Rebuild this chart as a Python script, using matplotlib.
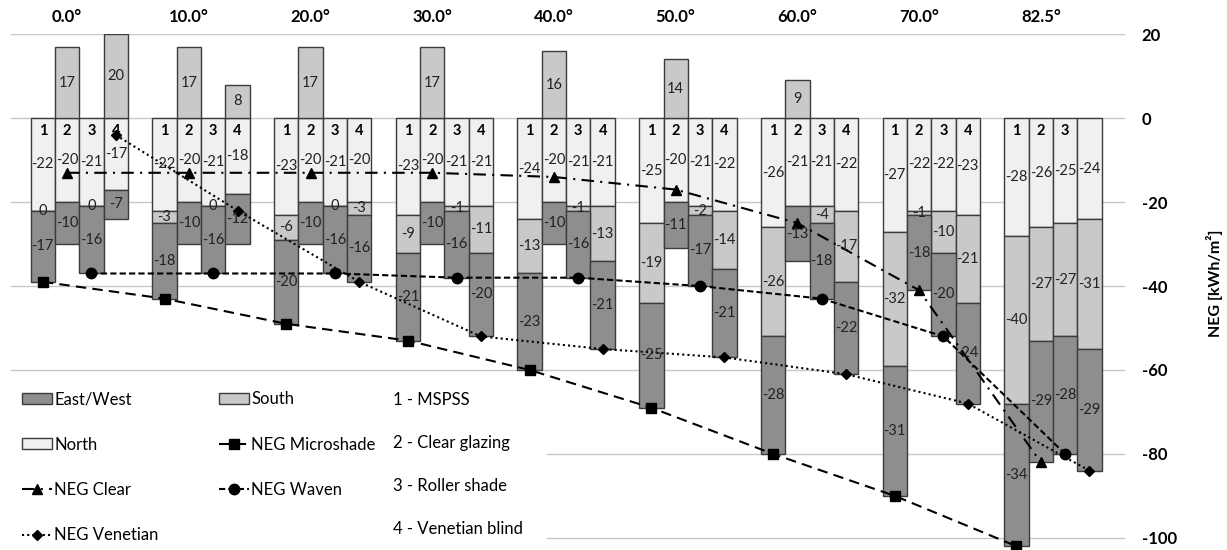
"""Net energy gain per facade orientation and tilt angle: stacked bars with NEG totals."""

import matplotlib

matplotlib.use("Agg")
import matplotlib.pyplot as plt
from matplotlib.lines import Line2D
from matplotlib.patches import Patch, Rectangle

plt.rcParams["font.family"] = ["Lato", "DejaVu Sans"]
plt.rcParams["axes.unicode_minus"] = False

angles = ["0.0°", "10.0°", "20.0°", "30.0°", "40.0°", "50.0°", "60.0°", "70.0°", "82.5°"]
bar_numbers = ["1", "2", "3", "4"]

# one row per angle, one value per system (1 MSPSS, 2 clear, 3 roller, 4 venetian)
north = [
    [-22, -20, -21, -17],
    [-22, -20, -21, -18],
    [-23, -20, -21, -20],
    [-23, -20, -21, -21],
    [-24, -20, -21, -21],
    [-25, -20, -21, -22],
    [-26, -21, -21, -22],
    [-27, -22, -22, -23],
    [-28, -26, -25, -24],
]
south = [
    [0, 17, 0, 20],
    [-3, 17, 0, 8],
    [-6, 17, 0, -3],
    [-9, 17, -1, -11],
    [-13, 16, -1, -13],
    [-19, 14, -2, -14],
    [-26, 9, -4, -17],
    [-32, -1, -10, -21],
    [-40, -27, -27, -31],
]
east_west = [
    [-17, -10, -16, -7],
    [-18, -10, -16, -12],
    [-20, -10, -16, -16],
    [-21, -10, -16, -20],
    [-23, -10, -16, -21],
    [-25, -11, -17, -21],
    [-28, -13, -18, -22],
    [-31, -18, -20, -24],
    [-34, -29, -28, -29],
]

system_names = ["1 - MSPSS", "2 - Clear glazing", "3 - Roller shade", "4 - Venetian blind"]
neg_names = ["NEG Microshade", "NEG Clear", "NEG Waven", "NEG Venetian"]

NORTH_C = "#f0f0f0"
SOUTH_C = "#c9c9c9"
EW_C = "#8e8e8e"
EDGE = "#3c3c3c"

line_styles = [
    dict(marker="s", ms=7.5, dashes=(5, 3)),
    dict(marker="^", ms=7.5, dashes=(6, 3, 1, 3)),
    dict(marker="o", ms=7.5, dashes=(3, 1.5)),
    dict(marker="D", ms=5.5, dashes=(1, 1.5)),
]

fig = plt.figure(figsize=(12.27, 5.5), dpi=100)
ax = fig.add_axes([0.0087, 0.0, 0.9082, 0.9376])

n_groups = len(angles)
xs, n_vals, s_vals, e_vals, s_bottom, e_bottom = [], [], [], [], [], []
for g in range(n_groups):
    for i in range(4):
        n, s, e = north[g][i], south[g][i], east_west[g][i]
        xs.append(g * 5 + i)
        n_vals.append(n)
        s_vals.append(s)
        e_vals.append(e)
        s_bottom.append(0 if s > 0 else n)
        e_bottom.append(n + min(s, 0))

bar_kw = dict(width=1.0, edgecolor=EDGE, linewidth=1, zorder=2)
b_n = ax.bar(xs, n_vals, bottom=0, color=NORTH_C, **bar_kw)
b_s = ax.bar(xs, s_vals, bottom=s_bottom, color=SOUTH_C, **bar_kw)
b_e = ax.bar(xs, e_vals, bottom=e_bottom, color=EW_C, **bar_kw)
for cont in (b_n, b_s, b_e):
    ax.bar_label(cont, label_type="center", fmt="%d", fontsize=10.5, color="#222222", zorder=5)

for g in range(n_groups):
    for i, num in enumerate(bar_numbers):
        if g == n_groups - 1 and i == 3:
            continue
        ax.annotate(num, (g * 5 + i, 0), xytext=(0, -9), textcoords="offset points",
                    ha="center", va="center", fontsize=10.5, fontweight="bold", zorder=5)

# NEG lines: total of the three facades for each system
for i in range(4):
    px = [g * 5 + i for g in range(n_groups)]
    py = [north[g][i] + south[g][i] + east_west[g][i] for g in range(n_groups)]
    st = line_styles[i]
    ax.plot(px, py, color="black", lw=1.5, marker=st["marker"], ms=st["ms"],
            dashes=st["dashes"], zorder=4, label=neg_names[i])

ax.set_xlim(-1.32, 44.46)
ax.set_ylim(-102.9, 20)
ax.set_yticks(range(-100, 21, 20))
ax.yaxis.grid(True, color="#c8c8c8", linewidth=1)
ax.set_axisbelow(True)
ax.yaxis.tick_right()
ax.tick_params(axis="y", length=0, pad=12, labelsize=12)
for lbl in ax.get_yticklabels():
    lbl.set_fontweight("bold")
ax.yaxis.set_label_position("right")
ax.set_ylabel("NEG [kWh/m²]", fontsize=11.5, fontweight="bold")
ax.yaxis.set_label_coords(1.0727, 0.518)

ax.xaxis.tick_top()
ax.set_xticks([g * 5 + 1 for g in range(n_groups)])
ax.set_xticklabels(angles, fontsize=12, fontweight="bold")
ax.tick_params(axis="x", length=0, pad=7)
for sp in ax.spines.values():
    sp.set_visible(False)

# white area behind the legend hides the gridlines there
ax.add_patch(Rectangle((0, 0), 0.481, 0.343, transform=ax.transAxes,
                       facecolor="white", edgecolor="none", zorder=1))


def line_handle(i):
    st = line_styles[i]
    return Line2D([], [], color="black", lw=1.5, marker=st["marker"], ms=st["ms"], dashes=st["dashes"])


blank = Line2D([], [], linestyle="none")
handles1 = [
    Patch(facecolor=EW_C, edgecolor=EDGE), Patch(facecolor=NORTH_C, edgecolor=EDGE),
    line_handle(1), line_handle(3),
    Patch(facecolor=SOUTH_C, edgecolor=EDGE), line_handle(0), line_handle(2), blank,
]
labels1 = ["East/West", "North", neg_names[1], neg_names[3], "South", neg_names[0], neg_names[2], ""]
leg1 = ax.legend(handles1, labels1, ncol=2, loc="upper left", bbox_to_anchor=(0.0101, 0.308),
                 frameon=False, fontsize=12, handlelength=1.8, handletextpad=0.15,
                 columnspacing=3.6, labelspacing=1.76, borderpad=0, borderaxespad=0,
                 handleheight=0.6)
ax.add_artist(leg1)
ax.legend([blank] * 4, system_names, loc="upper left", bbox_to_anchor=(0.343, 0.307),
          frameon=False, fontsize=12, handlelength=0, handletextpad=0, labelspacing=1.62,
          borderpad=0, borderaxespad=0)

fig.savefig("out.png", dpi=100)
plt.close(fig)
